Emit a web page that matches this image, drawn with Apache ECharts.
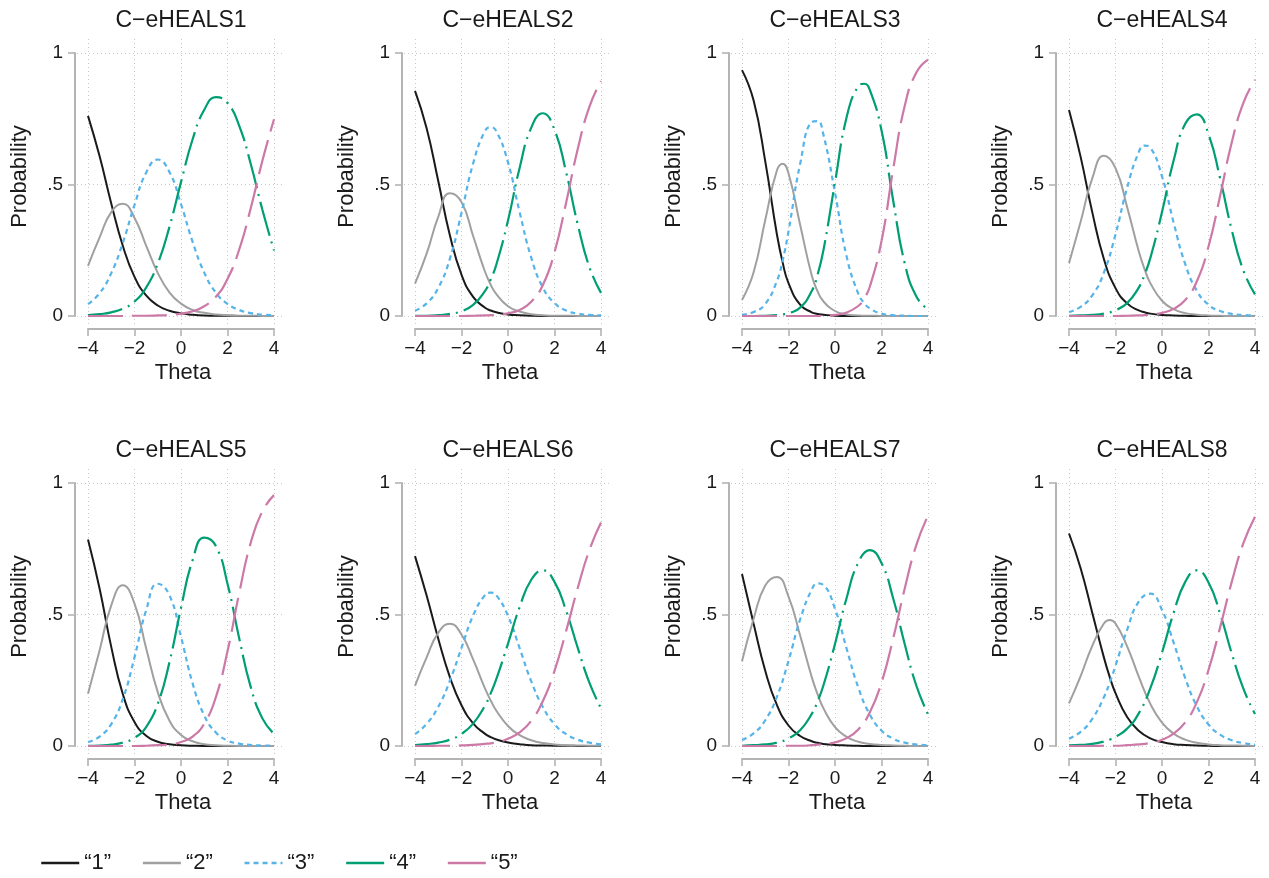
<!DOCTYPE html>
<html>
<head>
<meta charset="utf-8">
<title>C-eHEALS category response curves</title>
<script src="https://cdn.jsdelivr.net/npm/echarts@6/dist/echarts.min.js"></script>
<style>
  html, body { margin: 0; padding: 0; background: #ffffff; }
  #main { width: 1269px; height: 878px; }
</style>
</head>
<body>
<div id="main"></div>
<script>
// ---------------- data ----------------
const panelTitles = ['C\u2212eHEALS1', 'C\u2212eHEALS2', 'C\u2212eHEALS3', 'C\u2212eHEALS4',
                     'C\u2212eHEALS5', 'C\u2212eHEALS6', 'C\u2212eHEALS7', 'C\u2212eHEALS8'];
const legendNames = ['\u201C1\u201D', '\u201C2\u201D', '\u201C3\u201D', '\u201C4\u201D', '\u201C5\u201D'];
const xTicks = [-4, -2, 0, 2, 4];
const yTicks = [0, 0.5, 1];

// theta positions at which each panel's curves were read
const th1 = [-4,-3.5,-3,-2.5,-2,-1.5,-1,-0.5,0,0.5,1,1.5,2,2.5,3,3.5,4];
const th2 = [-4,-3.5,-3,-2.5,-2,-1.5,-1,-0.75,-0.5,0,0.5,1,1.5,2,2.5,3,3.5,4];
const th3 = [-4,-3.5,-3,-2.5,-2.25,-2,-1.5,-1,-0.75,-0.5,0,0.5,1,1.25,1.5,2,2.5,3,3.5,4];
const th4 = [-4,-3.5,-3,-2.5,-2,-1.5,-1,-0.75,-0.5,0,0.5,1,1.5,2,2.5,3,3.5,4];
const th5 = [-4,-3.5,-3,-2.5,-2,-1.5,-1,-0.5,0,0.5,1,1.5,2,2.5,3,3.5,4];
const th6 = [-4,-3.5,-3,-2.5,-2,-1.5,-1,-0.75,-0.5,0,0.5,1,1.5,2,2.5,3,3.5,4];
const th7 = [-4,-3.5,-3,-2.5,-2,-1.5,-1,-0.75,-0.5,0,0.5,1,1.5,2,2.5,3,3.5,4];
const th8 = [-4,-3.5,-3,-2.5,-2.25,-2,-1.5,-1,-0.5,0,0.5,1,1.5,2,2.5,3,3.5,4];

// C-eHEALS1
const i1_r1 = [.761,.607,.428,.266,.149,.078,.040,.020,.010,.005,.002,.001,.001,0,0,0,0];
const i1_r2 = [.191,.299,.395,.427,.373,.268,.164,.090,.047,.023,.012,.006,.003,.001,.001,0,0];
const i1_r3 = [.045,.087,.163,.279,.422,.545,.595,.548,.425,.282,.165,.089,.046,.023,.011,.005,.003];
const i1_r4 = [.003,.007,.014,.028,.055,.108,.199,.338,.509,.672,.784,.832,.810,.724,.578,.404,.249];
const i1_r5 = [0,0,0,0,.001,.001,.002,.004,.009,.018,.037,.073,.141,.252,.410,.590,.748];
// C-eHEALS2
const i2_r1 = [.856,.714,.513,.307,.157,.073,.032,.021,.014,.006,.003,.001,0,0,0,0,0,0];
const i2_r2 = [.123,.237,.377,.467,.433,.304,.171,.120,.083,.037,.017,.007,.003,.001,.001,0,0,0];
const i2_r3 = [.020,.048,.107,.218,.392,.580,.702,.718,.703,.584,.395,.222,.108,.049,.021,.009,.004,.002];
const i2_r4 = [.001,.001,.003,.008,.018,.042,.094,.138,.196,.363,.563,.716,.771,.708,.547,.348,.186,.088];
const i2_r5 = [0,0,0,0,0,.001,.002,.003,.004,.010,.023,.054,.118,.242,.431,.635,.795,.893];
// C-eHEALS3
const i3_r1 = [.935,.819,.588,.311,.203,.125,.043,.014,.008,.005,.001,0,0,0,0,0,0,0,0,0];
const i3_r2 = [.061,.166,.365,.553,.579,.543,.347,.154,.094,.056,.019,.006,.002,.001,.001,0,0,0,0,0];
const i3_r3 = [.005,.015,.046,.133,.212,.322,.578,.737,.741,.690,.469,.226,.085,.050,.029,.009,.003,.001,0,0];
const i3_r4 = [0,0,.001,.003,.006,.010,.032,.095,.157,.249,.508,.756,.874,.883,.859,.706,.440,.200,.074,.025];
const i3_r5 = [0,0,0,0,0,0,0,0,0,.001,.004,.013,.038,.066,.112,.285,.557,.799,.926,.975];
// C-eHEALS4
const i4_r1 = [.783,.605,.395,.217,.106,.048,.021,.014,.009,.004,.002,.001,0,0,0,0,0,0];
const i4_r2 = [.201,.358,.523,.609,.562,.414,.246,.178,.125,.058,.026,.011,.005,.002,.001,0,0,0];
const i4_r3 = [.015,.035,.078,.165,.310,.488,.623,.648,.640,.531,.355,.197,.096,.043,.019,.008,.004,.002];
const i4_r4 = [.001,.002,.004,.009,.022,.049,.108,.157,.221,.395,.591,.731,.767,.691,.523,.327,.173,.082];
const i4_r5 = [0,0,0,0,0,.001,.002,.003,.005,.012,.027,.061,.132,.264,.457,.660,.810,.898];
// C-eHEALS5
const i5_r1 = [.785,.598,.377,.197,.091,.039,.016,.007,.003,.001,0,0,0,0,0,0,0];
const i5_r2 = [.199,.364,.535,.611,.541,.372,.205,.097,.042,.018,.007,.003,.001,0,0,0,0];
const i5_r3 = [.015,.036,.083,.179,.337,.516,.617,.574,.415,.238,.116,.051,.021,.009,.004,.002,.001];
const i5_r4 = [.001,.002,.005,.013,.031,.072,.160,.317,.525,.707,.792,.760,.617,.411,.224,.105,.046];
const i5_r5 = [0,0,0,0,0,.001,.003,.006,.015,.036,.085,.186,.360,.580,.773,.893,.954];
// C-eHEALS6
const i6_r1 = [.722,.572,.408,.262,.155,.086,.047,.034,.025,.013,.007,.003,.002,.001,.001,0,0,0];
const i6_r2 = [.229,.337,.430,.465,.424,.329,.221,.174,.134,.076,.041,.022,.011,.006,.003,.002,.001,.001];
const i6_r3 = [.045,.084,.149,.248,.373,.496,.573,.583,.573,.495,.372,.246,.148,.083,.045,.024,.013,.006];
const i6_r4 = [.003,.007,.013,.024,.046,.085,.152,.199,.255,.389,.528,.632,.668,.624,.514,.373,.241,.143];
const i6_r5 = [0,0,.001,.001,.002,.004,.008,.010,.014,.028,.052,.096,.171,.286,.437,.601,.745,.850];
// C-eHEALS7
const i7_r1 = [.654,.465,.286,.156,.078,.038,.018,.012,.008,.004,.002,.001,0,0,0,0,0,0];
const i7_r2 = [.322,.484,.610,.643,.568,.420,.262,.197,.144,.072,.035,.016,.008,.004,.002,.001,0,0];
const i7_r3 = [.023,.048,.098,.187,.324,.481,.595,.618,.612,.522,.370,.223,.119,.059,.028,.013,.006,.003];
const i7_r4 = [.001,.003,.006,.013,.029,.060,.122,.169,.230,.388,.563,.697,.745,.696,.562,.387,.229,.121];
const i7_r5 = [0,0,0,0,.001,.001,.003,.005,.007,.014,.030,.063,.128,.241,.408,.599,.765,.876];
// C-eHEALS8
const i8_r1 = [.808,.676,.507,.337,.263,.201,.110,.058,.029,.015,.007,.004,.002,.001,0,0,0,0];
const i8_r2 = [.162,.266,.381,.466,.479,.466,.379,.264,.160,.089,.047,.024,.012,.006,.003,.002,.001,0];
const i8_r3 = [.028,.054,.103,.185,.241,.305,.442,.549,.579,.517,.393,.258,.151,.082,.043,.022,.011,.005];
const i8_r4 = [.002,.004,.008,.017,.024,.034,.066,.124,.220,.355,.506,.624,.668,.622,.503,.352,.218,.122];
const i8_r5 = [0,0,0,.001,.001,.001,.003,.006,.012,.024,.047,.090,.167,.289,.451,.624,.771,.872];

const panelTheta = [th1, th2, th3, th4, th5, th6, th7, th8];
const panels = [
  [i1_r1, i1_r2, i1_r3, i1_r4, i1_r5],
  [i2_r1, i2_r2, i2_r3, i2_r4, i2_r5],
  [i3_r1, i3_r2, i3_r3, i3_r4, i3_r5],
  [i4_r1, i4_r2, i4_r3, i4_r4, i4_r5],
  [i5_r1, i5_r2, i5_r3, i5_r4, i5_r5],
  [i6_r1, i6_r2, i6_r3, i6_r4, i6_r5],
  [i7_r1, i7_r2, i7_r3, i7_r4, i7_r5],
  [i8_r1, i8_r2, i8_r3, i8_r4, i8_r5]
];

// ---------------- styles / layout ----------------
const FONT = '"Liberation Sans", Arial, Helvetica, sans-serif';
const TEXT = '#1a1a1a';
const AXIS = '#b4b4b4';
const GRIDC = '#c8c8c8';
const lineStyles = [
  { color: '#1a1a1a', width: 2,   type: 'solid' },
  { color: '#a0a0a0', width: 2,   type: 'solid' },
  { color: '#56b4e9', width: 2.2, type: [5, 4] },
  { color: '#009e73', width: 2.2, type: [35, 6, 2, 6] },
  { color: '#cc79a7', width: 2.2, type: [35, 9] }
];

const colLeft = [88, 415, 742, 1069];
const rowTop = [53, 483];
const titleY = [21, 451];
const W = 186, H = 263;
const padL = 11, padR = 11, padT = 14, padB = 9;

const grids = [], xAxes = [], yAxes = [], series = [], graphics = [];

function fmtX(v) { return v < 0 ? '\u2212' + Math.abs(v) : String(v); }
function fmtY(v) { return v === 0.5 ? '.5' : String(v); }

// data grids (exact data rectangle, axes offset like the reference)
for (let i = 0; i < 8; i++) {
  const left = colLeft[i % 4], top = rowTop[Math.floor(i / 4)];
  grids.push({ left: left, top: top, width: W, height: H });
  xAxes.push({
    gridIndex: i, type: 'value', min: xTicks[0], max: xTicks[xTicks.length - 1], interval: 2, offset: 13,
    axisLine: { show: true, onZero: false, lineStyle: { color: AXIS, width: 2 } },
    axisTick: { show: true, length: 7, lineStyle: { color: AXIS, width: 1.6 } },
    axisLabel: { fontSize: 19, color: TEXT, fontFamily: FONT, margin: 10, formatter: fmtX },
    splitLine: { show: false },
    name: 'Theta', nameLocation: 'middle', nameGap: 33,
    nameTextStyle: { fontSize: 22, color: TEXT, fontFamily: FONT, padding: [0, 0, 0, 4] }
  });
  yAxes.push({
    gridIndex: i, type: 'value', min: yTicks[0], max: yTicks[yTicks.length - 1], interval: 0.5, offset: 13,
    axisLine: { show: true, onZero: false, lineStyle: { color: AXIS, width: 2 } },
    axisTick: { show: true, length: 7, lineStyle: { color: AXIS, width: 1.6 } },
    axisLabel: { fontSize: 19, color: TEXT, fontFamily: FONT, margin: 12, formatter: fmtY },
    splitLine: { show: false },
    name: 'Probability', nameLocation: 'middle', nameGap: 44,
    nameTextStyle: { fontSize: 22, color: TEXT, fontFamily: FONT, padding: [0, 0, 0, 16] }
  });
  graphics.push({
    type: 'text', x: left + W / 2, y: titleY[Math.floor(i / 4)], silent: true,
    style: { text: panelTitles[i], fill: TEXT, font: '23px ' + FONT,
             align: 'center', verticalAlign: 'middle', textAlign: 'center', textVerticalAlign: 'middle' }
  });
  const th = panelTheta[i];
  panels[i].forEach(function (vals, k) {
    series.push({
      type: 'line', name: legendNames[k], xAxisIndex: i, yAxisIndex: i,
      data: th.map(function (t, j) { return [t, vals[j]]; }),
      smooth: true, symbol: 'none', showSymbol: false, silent: true,
      color: lineStyles[k].color,
      lineStyle: lineStyles[k],
      z: 3 + k
    });
  });
}
// background grids (slightly larger plot region carrying the dotted grid lines)
for (let i = 0; i < 8; i++) {
  const left = colLeft[i % 4], top = rowTop[Math.floor(i / 4)];
  grids.push({ left: left - padL, top: top - padT, width: W + padL + padR, height: H + padT + padB });
  xAxes.push({
    gridIndex: 8 + i, type: 'value', min: -4 - padL * 8 / W, max: 4 + padR * 8 / W, splitNumber: 4,
    axisLine: { show: false }, axisTick: { show: false }, axisLabel: { show: false },
    splitLine: { show: true, showMinLine: false, showMaxLine: false,
                 lineStyle: { color: GRIDC, type: [1, 3], width: 1 } }
  });
  yAxes.push({
    gridIndex: 8 + i, type: 'value', min: -padB / H, max: 1 + padT / H, splitNumber: 2,
    axisLine: { show: false }, axisTick: { show: false }, axisLabel: { show: false },
    splitLine: { show: true, showMinLine: false, showMaxLine: false,
                 lineStyle: { color: GRIDC, type: [1, 3], width: 1 } }
  });
}

const chart = echarts.init(document.getElementById('main'), null, { renderer: 'canvas' });
chart.setOption({
  backgroundColor: '#ffffff',
  animation: false,
  textStyle: { fontFamily: FONT },
  grid: grids,
  xAxis: xAxes,
  yAxis: yAxes,
  series: series,
  graphic: { elements: graphics },
  legend: {
    left: 40, top: 852, orient: 'horizontal', selectedMode: false, padding: 0,
    itemWidth: 38, itemHeight: 14, itemGap: 30.5,
    itemStyle: { opacity: 0 },
    lineStyle: { width: 2.5 },
    textStyle: { fontSize: 22, color: TEXT, fontFamily: FONT },
    data: legendNames.map(function (n, k) {
      return k >= 3 ? { name: n, lineStyle: { type: 'solid', width: 2.5 } } : { name: n };
    })
  }
});
</script>
</body>
</html>
